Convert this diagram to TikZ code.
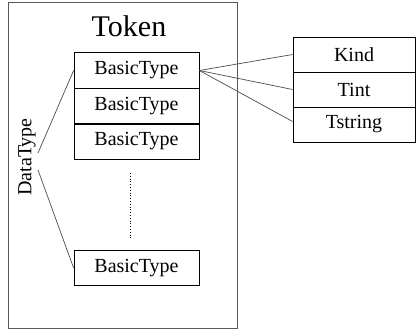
\documentclass[tikz,border=0pt]{standalone}
\usepackage{fontspec}
\setmainfont{Liberation Serif}
\usetikzlibrary{calc}

\tikzset{
  basicbox/.style={draw, line width=0.8pt, minimum width=125pt, minimum height=35.5pt,
    inner sep=0pt, font=\fontsize{20}{23}\selectfont},
  fieldbox/.style={draw, line width=0.8pt, minimum width=122pt, minimum height=35pt,
    inner sep=0pt, font=\fontsize{20}{23}\selectfont},
  link/.style={line width=0.7pt, draw=black!70}
}

\begin{document}
\begin{tikzpicture}[x=1pt, y=-1pt]
    \useasboundingbox (0,0) rectangle (416,335);

    % outer Token box
    \draw [line width=0.9pt, draw=black!65] (8,2) rectangle (237.5,328);
    \node (token) at (129,26) {\fontsize{30}{34}\selectfont Token};

    \node [basicbox] (b1) at (136.5,70.5) {BasicType};
    \node [basicbox] (b2) at (136.5,106) {BasicType};
    \node [basicbox] (b3) at (136.5,141.5) {BasicType};
    \node [basicbox] (b4) at (136.5,268) {BasicType};
    \draw [line width=1.4pt] (b2.south west) -- (b2.south east);

    \coordinate (dotA) at (130,173);
    \coordinate (dotB) at (130,240);
    \draw [dotted, line width=0.8pt] (dotA) -- (dotB);

    \node [rotate=90, font=\fontsize{20}{23}\selectfont] (dt) at (27,157) {DataType};
    \coordinate (dtA) at (38,153);
    \coordinate (dtB) at (38,170);
    \draw [link] (dtA) -- (b1.west);
    \draw [link] (dtB) -- (b4.west);

    % fields of BasicType
    \node [fieldbox] (kind) at (354,54.5) {Kind};
    \node [fieldbox] (tint) at (354,89.5) {Tint};
    \node [fieldbox] (tstr) at (354,124.5) {Tstring};
    \draw [line width=1.4pt] (tint.south west) -- (tint.south east);

    \draw [link] (b1.east) -- (kind.west);
    \draw [link] (b1.east) -- (tint.west);
    \draw [link] (b1.east) -- ($(tstr.west)+(0,-3)$);
\end{tikzpicture}
\end{document}
